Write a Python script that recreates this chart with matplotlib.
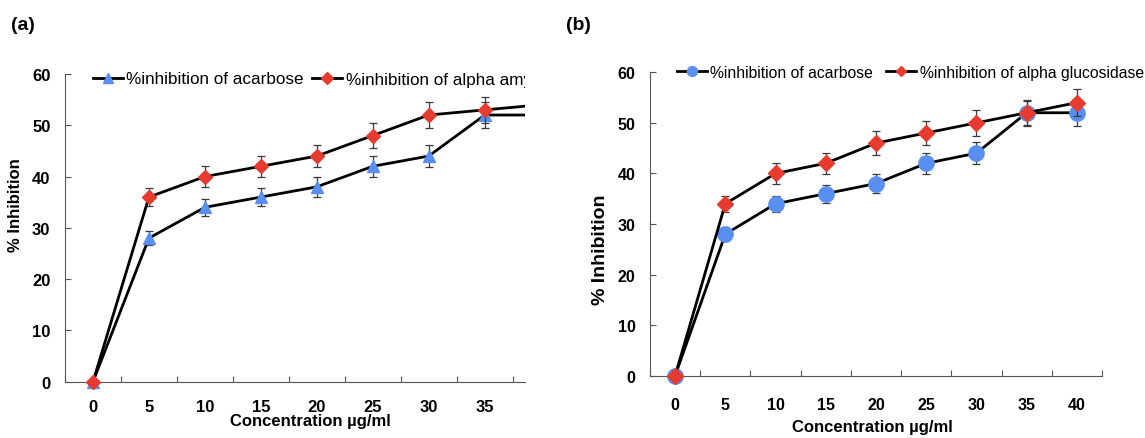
import numpy as np
import matplotlib
matplotlib.use('Agg')
import matplotlib.pyplot as plt
from matplotlib.transforms import Bbox, TransformedBbox

plt.rcParams['font.family'] = ['Liberation Sans', 'DejaVu Sans']

# concentration categories (ug/ml)
conc = ['0', '5', '10', '15', '20', '25', '30', '35', '40']

# panel (a): acarbose vs alpha amylase
a_acarbose = [0, 28, 34, 36, 38, 42, 44, 52, 52]
a_acarbose_err = [0, 1.4, 1.7, 1.8, 1.9, 2.1, 2.1, 2.6, 2.6]
a_amylase = [0, 36, 40, 42, 44, 48, 52, 53, 54]
a_amylase_err = [0, 1.8, 2.0, 2.0, 2.1, 2.4, 2.6, 2.5, 2.6]

# panel (b): acarbose vs alpha glucosidase
b_acarbose = [0, 28, 34, 36, 38, 42, 44, 52, 52]
b_acarbose_err = [0, 1.4, 1.6, 1.8, 1.9, 2.1, 2.2, 2.4, 2.6]
b_glucosidase = [0, 34, 40, 42, 46, 48, 50, 52, 54]
b_glucosidase_err = [0, 1.6, 2.0, 2.1, 2.4, 2.4, 2.5, 2.6, 2.6]

yticks = [0, 10, 20, 30, 40, 50, 60]

BLUE = '#5a8ff2'
RED = '#e63b2e'
SPINE = '#555555'

W, H = 1145, 439
fig = plt.figure(figsize=(W / 100, H / 100), dpi=100)


def px_axes(left, top, right, bottom):
    return fig.add_axes([left / W, 1 - bottom / H, (right - left) / W, (bottom - top) / H])


def series(ax, x, vals, err, marker, ms, color, xmax, z):
    ax.errorbar(x, vals, yerr=err, fmt='none', ecolor='#3a3a3a', elinewidth=0.9,
                capsize=2.8, capthick=0.9, zorder=z)
    line, = ax.plot(x, vals, color='black', lw=2.0, marker=marker, ms=ms,
                    mfc=color, mec=color, zorder=z + 1)
    # let the markers at 0 spill below the axis, but cut the line at the right edge
    line.set_clip_box(TransformedBbox(Bbox.from_extents(-0.5, -5, xmax, 70), ax.transData))
    return line


def style(ax, xmax, xpad, tsize):
    n = len(conc)
    x = np.arange(n)
    ax.set_yticks(yticks)
    ax.set_xticks(x)
    ax.set_xticklabels(conc)
    ax.set_xticks(np.arange(-0.5, n, 1), minor=True)
    ax.set_xlim(-0.5, xmax)
    ax.set_ylim(0, 60)
    for s in ['top', 'right']:
        ax.spines[s].set_visible(False)
    for s in ['left', 'bottom']:
        ax.spines[s].set_color(SPINE)
        ax.spines[s].set_linewidth(0.8)
    ax.tick_params(axis='x', which='major', length=0, pad=xpad)
    ax.tick_params(axis='x', which='minor', direction='in', length=4, width=0.8, color=SPINE)
    ax.tick_params(axis='y', direction='in', length=4, width=0.8, color=SPINE, pad=10.5)
    for lab in ax.get_xticklabels() + ax.get_yticklabels():
        lab.set_fontsize(tsize)
        lab.set_fontweight('bold')


x = np.arange(len(conc))

# ---- panel (a) ----
ax_a = px_axes(65, 75, 525, 382.7)
xmax_a = 7.72
style(ax_a, xmax_a, 12.5, 12)
la1 = series(ax_a, x, a_acarbose, a_acarbose_err, '^', 9, BLUE, xmax_a, 2)
la2 = series(ax_a, x, a_amylase, a_amylase_err, 'D', 6.8, RED, xmax_a, 4)
ax_a.set_xlim(-0.5, xmax_a)
ax_a.set_xlabel('Concentration µg/ml', fontsize=12, fontweight='bold', va='center')
ax_a.xaxis.set_label_coords(0.533, -0.1245)
ax_a.set_ylabel('% Inhibition', fontsize=12, fontweight='bold', va='center')
ax_a.yaxis.set_label_coords(-0.107, 0.578)

leg_a = ax_a.legend([la1, la2], ['%inhibition of acarbose', '%inhibition of alpha amylase'],
                    ncol=2, frameon=False, loc='center left',
                    bbox_to_anchor=(93 / W, 1 - 80 / H), bbox_transform=fig.transFigure,
                    borderpad=0, borderaxespad=0, handlelength=1.75, handletextpad=0.2,
                    columnspacing=0.5, markerscale=0.85, fontsize=12.3)
# the legend runs past the right edge of the chart and is cut there
cut_a = TransformedBbox(Bbox.from_extents(0, 0, 525 / W, 1), fig.transFigure)
for t in leg_a.get_texts():
    t.set_clip_box(cut_a)
    t.set_clip_on(True)

# ---- panel (b) ----
ax_b = px_axes(650, 73.3, 1102, 376.7)
xmax_b = 8.5
style(ax_b, xmax_b, 15.5, 11.5)
lb1 = series(ax_b, x, b_acarbose, b_acarbose_err, 'o', 11, BLUE, xmax_b, 2)
lb2 = series(ax_b, x, b_glucosidase, b_glucosidase_err, 'D', 7.8, RED, xmax_b, 4)
ax_b.set_xlim(-0.5, xmax_b)
ax_b.set_xlabel('Concentration µg/ml', fontsize=12, fontweight='bold', va='center')
ax_b.xaxis.set_label_coords(0.491, -0.169)
ax_b.set_ylabel('% Inhibition', fontsize=14, fontweight='bold', va='center')
ax_b.yaxis.set_label_coords(-0.11, 0.418)

ax_b.legend([lb1, lb2], ['%inhibition of acarbose', '%inhibition of alpha glucosidase'],
            ncol=2, frameon=False, loc='center left',
            bbox_to_anchor=(676.7 / W, 1 - 73.3 / H), bbox_transform=fig.transFigure,
            borderpad=0, borderaxespad=0, handlelength=1.95, handletextpad=0.2,
            columnspacing=0.8, markerscale=0.65, fontsize=11.3)

fig.text(23 / W, 1 - 25 / H, '(a)', fontsize=14, fontweight='bold', ha='center', va='center')
fig.text(578 / W, 1 - 25 / H, '(b)', fontsize=14, fontweight='bold', ha='center', va='center')

fig.savefig('out.png', dpi=100)
